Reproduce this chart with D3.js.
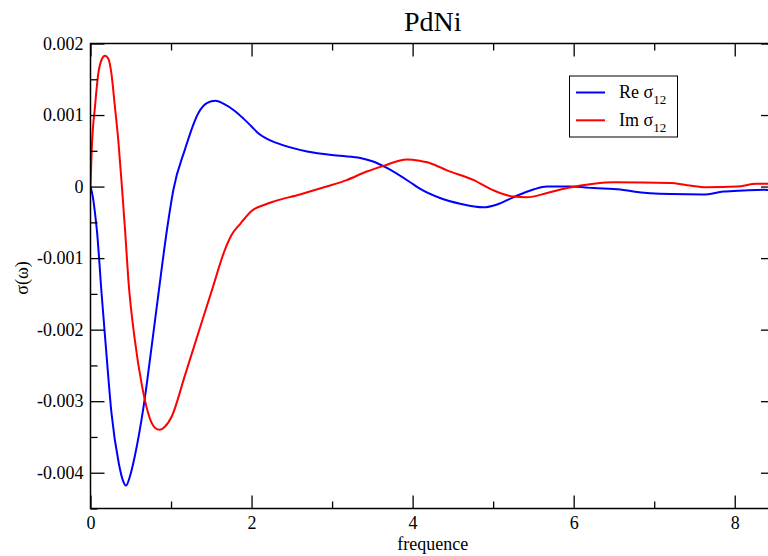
<!DOCTYPE html>
<html>
<head>
<meta charset="utf-8">
<script src="https://cdn.jsdelivr.net/npm/d3@7"></script>
<style>
  body { margin: 0; background: #fff; }
  svg { display: block; font-family: "Liberation Serif", "DejaVu Serif", serif; }
</style>
</head>
<body>
<div id="chart"></div>
<script>
// PdNi conductivity, values (sigma in units of 1e-3)
const reFreq = [0, 0.03, 0.056, 0.08, 0.14, 0.20, 0.26, 0.35, 0.40, 0.44, 0.49, 0.55, 0.66, 0.76, 0.84, 0.95,
  1.03, 1.17, 1.34, 1.45, 1.55, 1.65, 1.80, 1.90, 2.0, 2.08, 2.17, 2.31, 2.69, 3.10, 3.35, 3.51, 3.68, 4.01,
  4.09, 4.34, 4.59, 4.88, 5.05, 5.25, 5.5, 5.67, 5.96, 6.25, 6.58, 6.74, 7.2, 7.61, 7.86, 8.11, 8.36, 8.5];
const reSigma = [0, -0.15, -0.37, -0.62, -1.53, -2.37, -3.16, -3.86, -4.10, -4.18, -4.05, -3.77, -3.07, -2.23, -1.53, -0.60,
  -0.04, 0.51, 1.03, 1.17, 1.20, 1.16, 1.05, 0.95, 0.84, 0.75, 0.68, 0.61, 0.49, 0.43, 0.40, 0.35, 0.26, 0.03,
  -0.03, -0.16, -0.24, -0.29, -0.25, -0.15, -0.04, 0.0, 0.0, -0.02, -0.04, -0.07, -0.105, -0.11, -0.07, -0.055, -0.045, -0.06];

const imFreq = [0, 0.015, 0.056, 0.097, 0.14, 0.18, 0.22, 0.26, 0.30, 0.345, 0.39, 0.43, 0.47, 0.55, 0.64, 0.74, 0.80, 0.86,
  0.92, 1.01, 1.17, 1.38, 1.51, 1.67, 1.75, 1.86, 2.0, 2.17, 2.27, 2.60, 2.93, 3.18, 3.43, 3.64, 3.93, 4.09, 4.18,
  4.34, 4.42, 4.76, 5.0, 5.25, 5.42, 5.67, 5.92, 6.25, 6.5, 7.2, 7.41, 7.65, 8.03, 8.27, 8.5];
const imSigma = [0, 0.51, 1.12, 1.58, 1.78, 1.83, 1.79, 1.58, 1.15, 0.65, 0.0, -0.62, -1.30, -2.14, -2.79, -3.25, -3.37, -3.40,
  -3.36, -3.21, -2.65, -1.90, -1.44, -0.88, -0.68, -0.52, -0.34, -0.25, -0.21, -0.11, 0.0, 0.09, 0.21, 0.29, 0.38, 0.36, 0.34,
  0.27, 0.23, 0.09, -0.05, -0.14, -0.15, -0.09, -0.02, 0.04, 0.06, 0.05, 0.02, -0.01, 0.0, 0.04, 0.04];

const xMajor = [0, 2, 4, 6, 8];
const xMinor = [1, 3, 5, 7];
const yMajor = [-0.004, -0.003, -0.002, -0.001, 0, 0.001, 0.002];
const yMinor = [-0.0045, -0.0035, -0.0025, -0.0015, -0.0005, 0.0005, 0.0015];

const series = [
  { name: "Re", color: "#0000ff", freq: reFreq, sigma: reSigma },
  { name: "Im", color: "#ff0000", freq: imFreq, sigma: imSigma }
];

const width = 768, height = 556;
const plotL = 90.5, plotR = 775, plotT = 43.5, plotB = 508.5;

const svg = d3.select("#chart").append("svg")
  .attr("width", width)
  .attr("height", height);

const x = d3.scaleLinear().domain([0, 8.5]).range([plotL, plotR]);
const y = d3.scaleLinear().domain([-0.0045, 0.002]).range([plotB, plotT]);

svg.append("defs").append("clipPath").attr("id", "plot")
  .append("rect").attr("x", plotL).attr("y", plotT)
  .attr("width", plotR - plotL).attr("height", plotB - plotT);

// curves
const line = d3.line()
  .x(d => x(d[0]))
  .y(d => y(d[1] * 1e-3))
  .curve(d3.curveMonotoneX);

series.forEach(s => {
  svg.append("path")
    .datum(s.freq.map((f, i) => [f, s.sigma[i]]))
    .attr("clip-path", "url(#plot)")
    .attr("fill", "none")
    .attr("stroke", s.color)
    .attr("stroke-width", 2)
    .attr("d", line);
});

// axes (ticks point inward, like grace)
const fmtY = d => d === 0 ? "0" : d.toFixed(3);

function styleAxis(g) {
  g.selectAll("path.domain").remove();
  g.selectAll("line").attr("stroke", "#000").attr("stroke-width", 1.3);
  g.selectAll("text").attr("fill", "#000").style("font-size", "18px")
    .style("font-family", "'Liberation Serif', serif");
}

svg.append("g").attr("transform", `translate(0,${plotB})`)
  .call(d3.axisBottom(x).tickValues(xMajor).tickSize(-13).tickPadding(8).tickFormat(d3.format("d")))
  .call(styleAxis);
svg.append("g").attr("transform", `translate(0,${plotB})`)
  .call(d3.axisBottom(x).tickValues(xMinor).tickSize(-7).tickFormat(""))
  .call(styleAxis);
svg.append("g").attr("transform", `translate(0,${plotT})`)
  .call(d3.axisTop(x).tickValues(xMajor).tickSize(-13).tickFormat(""))
  .call(styleAxis);
svg.append("g").attr("transform", `translate(0,${plotT})`)
  .call(d3.axisTop(x).tickValues(xMinor).tickSize(-7).tickFormat(""))
  .call(styleAxis);

svg.append("g").attr("transform", `translate(${plotL},0)`)
  .call(d3.axisLeft(y).tickValues(yMajor).tickSize(-14).tickPadding(7).tickFormat(fmtY))
  .call(styleAxis);
svg.append("g").attr("transform", `translate(${plotL},0)`)
  .call(d3.axisLeft(y).tickValues(yMinor).tickSize(-7).tickFormat(""))
  .call(styleAxis);
svg.append("g").attr("transform", `translate(${plotR},0)`)
  .call(d3.axisRight(y).tickValues(yMajor).tickSize(-14).tickFormat(""))
  .call(styleAxis);
svg.append("g").attr("transform", `translate(${plotR},0)`)
  .call(d3.axisRight(y).tickValues(yMinor).tickSize(-7).tickFormat(""))
  .call(styleAxis);

// frame
svg.append("rect")
  .attr("x", plotL).attr("y", plotT)
  .attr("width", plotR - plotL).attr("height", plotB - plotT)
  .attr("fill", "none").attr("stroke", "#000").attr("stroke-width", 1.5);

// title and labels
svg.append("text")
  .attr("x", (plotL + plotR) / 2).attr("y", 31)
  .attr("text-anchor", "middle")
  .style("font-size", "28px")
  .text("PdNi");

svg.append("text")
  .attr("x", (plotL + plotR) / 2).attr("y", 550)
  .attr("text-anchor", "middle")
  .style("font-size", "18px")
  .text("frequence");

svg.append("text")
  .attr("transform", "translate(28,278) rotate(-90)")
  .attr("text-anchor", "middle")
  .style("font-size", "18px")
  .text("σ(ω)");

// legend
const legend = svg.append("g");
legend.append("rect")
  .attr("x", 569.5).attr("y", 76)
  .attr("width", 108).attr("height", 61)
  .attr("fill", "#fff").attr("stroke", "#000").attr("stroke-width", 1);

series.forEach((s, i) => {
  const ly = 92.5 + i * 27.8;
  legend.append("line")
    .attr("x1", 576).attr("x2", 605)
    .attr("y1", ly).attr("y2", ly)
    .attr("stroke", s.color).attr("stroke-width", 2);
  const t = legend.append("text")
    .attr("x", 619).attr("y", ly + 5.5)
    .style("font-size", "18px");
  t.append("tspan").text(s.name + " σ");
  t.append("tspan").attr("dy", 6).style("font-size", "13px").text("12");
});
</script>
</body>
</html>
